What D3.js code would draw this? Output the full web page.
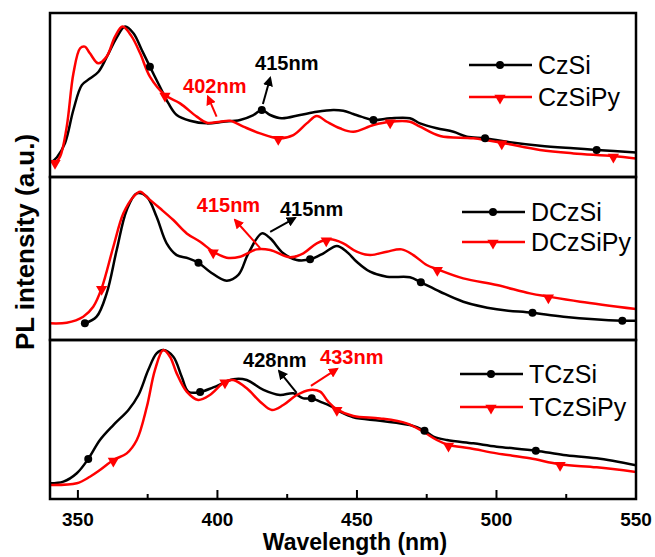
<!DOCTYPE html>
<meta charset="utf-8">
<style>
  body { margin: 0; background: #fff; }
  text { font-family: "Liberation Sans", Arial, sans-serif; }
  .frame { fill: none; stroke: #000; stroke-width: 2.5; }
  .curve { fill: none; stroke-width: 2.5; }
</style>
<svg width="655" height="557"></svg>
<script src="https://cdnjs.cloudflare.com/ajax/libs/d3/7.8.5/d3.min.js"></script>
<script>
  // spectra: [wavelength nm, normalised PL intensity]
  var czsi = [[340.5,.09],[342.5,.12],[345.4,.207],[348.4,.41],[351.4,.56],[354.3,.60],[357.3,.64],[360.3,.73],[363.9,.85],[366.9,.917],[369.9,.876],[372.9,.774],[375.8,.673],[379.4,.55],[382.4,.45],[385.4,.378],[390.2,.343],[396.2,.327],[402.1,.337],[408.1,.348],[412.9,.378],[415.9,.409],[418.9,.378],[423,.358],[429.6,.378],[435.6,.398],[441.5,.409],[445.1,.404],[448.7,.384],[451.5,.368],[455.9,.348],[461.9,.358],[469,.358],[472.6,.327],[478.6,.297],[484.6,.276],[489.4,.246],[495.9,.236],[503.7,.215],[515.6,.191],[527.6,.175],[535.9,.165],[550,.15]];
  var czsipy = [[340,.1],[341.8,.09],[343.6,.124],[346,.307],[348.4,.632],[350.8,.785],[352.5,.795],[354.3,.754],[357.3,.693],[360.3,.734],[363.3,.856],[366,.917],[369.3,.856],[372.3,.754],[375.8,.612],[381.2,.5],[386.6,.449],[392.6,.368],[396.2,.331],[400.9,.337],[404.5,.343],[409.3,.307],[415.3,.266],[421.8,.236],[427.2,.256],[432,.327],[435.6,.372],[439.2,.337],[443.9,.297],[448.7,.276],[455.9,.317],[461.9,.337],[469,.337],[472.6,.307],[479.8,.25],[491.7,.236],[501.9,.209],[515.6,.165],[527.6,.144],[541.9,.128],[550,.112]];
  var dczsi = [[352.5,.102],[356.7,.143],[360.3,.286],[363.9,.552],[367.5,.798],[371.1,.9],[374.7,.879],[378.2,.756],[381.8,.593],[385.4,.521],[389.6,.501],[393.2,.474],[397.3,.419],[403.3,.364],[407.5,.399],[411.1,.532],[415.9,.654],[418.9,.624],[423.6,.532],[428.4,.491],[433.2,.495],[438,.532],[442.8,.577],[446.3,.542],[449.9,.48],[454.7,.419],[460.7,.388],[469,.385],[472.9,.354],[479.8,.296],[488.1,.235],[500.1,.188],[512.9,.167],[524,.143],[545.1,.118],[550,.118]];
  var dczsipy = [[340,.102],[346,.106],[351.9,.143],[355.5,.204],[358.5,.317],[362.7,.572],[366.3,.777],[369.9,.879],[372.3,.91],[375.2,.869],[379.4,.808],[384.2,.736],[389,.654],[393.8,.603],[398.5,.542],[403.3,.505],[408.1,.511],[414.1,.556],[418.9,.552],[426,.507],[430.8,.532],[435.6,.593],[440.4,.618],[445.1,.593],[449.9,.542],[454.7,.521],[460.7,.542],[466,.556],[470.2,.521],[475,.46],[478.8,.434],[488.1,.378],[500.1,.337],[512,.286],[518.6,.266],[530,.235],[550,.19]];
  var tczsi = [[340,.099],[344.8,.109],[349.6,.162],[353.7,.252],[357.9,.371],[362.7,.465],[368.1,.56],[371.7,.654],[375.2,.811],[378.2,.916],[380.6,.937],[384.2,.895],[387.2,.769],[389.6,.675],[393.8,.673],[398.5,.702],[405.7,.753],[410.5,.748],[416.5,.686],[422.4,.654],[427.2,.665],[430.8,.633],[433.8,.633],[436.8,.612],[440.4,.585],[443.9,.549],[448.7,.514],[458.3,.492],[469,.465],[474.2,.43],[477.4,.392],[482.2,.371],[491.7,.35],[500.1,.329],[514.1,.304],[524,.277],[535.9,.256],[550,.212]];
  var tczsipy = [[340,.088],[349.6,.099],[354.3,.14],[357.9,.182],[362.7,.245],[367.5,.287],[371.1,.371],[374.7,.58],[377.6,.811],[380.6,.937],[383,.895],[385.4,.79],[389,.675],[393.1,.623],[397.3,.654],[402.7,.738],[405.7,.748],[410.5,.696],[415.3,.612],[419.5,.56],[423.6,.591],[428.4,.654],[433.2,.686],[436.8,.675],[439.7,.612],[442.8,.564],[448.7,.522],[458.3,.507],[467.8,.476],[473.8,.423],[478.6,.371],[482.8,.34],[490.5,.319],[500.1,.287],[512,.256],[522.8,.218],[535.9,.199],[550,.17]];

  // wavelengths where the symbols sit
  var czsiMarks = [375.8, 415.9, 455.9, 495.9, 535.9];
  var czsipyMarks = [341.8, 381.2, 421.8, 461.9, 501.9, 541.9];
  var dczsiMarks = [352.5, 393.2, 433.2, 472.9, 512.9, 545.1];
  var dczsipyMarks = [358.5, 398.5, 439, 478.8, 518.6];
  var tczsiMarks = [353.7, 393.8, 433.8, 474.2, 514.1];
  var tczsipyMarks = [362.7, 402.7, 442.8, 482.8, 522.8];

  var names = [["CzSi", "CzSiPy"], ["DCzSi", "DCzSiPy"], ["TCzSi", "TCzSiPy"]];
  var majorTicks = [350, 400, 450, 500, 550];
  var minorTicks = [375, 425, 475, 525];

  // peak labels: text, colour, text anchor point, arrow from -> to (nm, intensity)
  var peaks = [
    [0, "415nm", "#000", [413.5, .655], [416.3, .445], [418.9, .604]],
    [0, "402nm", "#f00", [387.7, .515], [399.7, .368], [396.6, .49]],
    [1, "415nm", "#f00", [392.6, .784], [415.3, .564], [406.3, .736]],
    [1, "415nm", "#000", [422.4, .758], [418.9, .664], [427.8, .748]],
    [2, "428nm", "#000", [409.2, .833], [428.4, .667], [422.1, .805]],
    [2, "433nm", "#f00", [436.8, .846], [433.5, .711], [442.9, .818]]
  ];

  var svg = d3.select("svg");
  var left = 50, right = 636;
  var panels = [
    {top: 13, bottom: 177, black: czsi, red: czsipy, bm: czsiMarks, rm: czsipyMarks, leg: {x: 469, y: 65, dy: 32}},
    {top: 177, bottom: 340, black: dczsi, red: dczsipy, bm: dczsiMarks, rm: dczsipyMarks, leg: {x: 462, y: 212, dy: 30}},
    {top: 340, bottom: 499, black: tczsi, red: tczsipy, bm: tczsiMarks, rm: tczsipyMarks, leg: {x: 460, y: 374, dy: 33}}
  ];

  var x = d3.scaleLinear().domain([340, 550]).range([left, right]);

  var defs = svg.append("defs");
  ["#000", "#f00"].forEach(function(c, i) {
    defs.append("marker")
      .attr("id", "head" + i)
      .attr("viewBox", "0 0 10 10")
      .attr("refX", 8).attr("refY", 5)
      .attr("markerWidth", 5).attr("markerHeight", 5)
      .attr("markerUnits", "strokeWidth")
      .attr("orient", "auto")
      .append("path")
      .attr("d", "M0,0L10,5L0,10z")
      .attr("fill", c);
  });

  var triangle = d3.symbol().type(d3.symbolTriangle).size(55);

  // find the point on a drawn path where it crosses a given x
  function pointAt(node, px) {
    var lo = 0, hi = node.getTotalLength();
    for (var k = 0; k < 30; k++) {
      var mid = (lo + hi) / 2;
      if (node.getPointAtLength(mid).x < px) lo = mid; else hi = mid;
    }
    return node.getPointAtLength((lo + hi) / 2);
  }

  panels.forEach(function(p, i) {
    var y = d3.scaleLinear().domain([0, 1]).range([p.bottom, p.top]);
    var line = d3.line()
      .x(function(d) { return x(d[0]); })
      .y(function(d) { return y(d[1]); })
      .curve(d3.curveCatmullRom.alpha(0.5));

    defs.append("clipPath").attr("id", "clip" + i)
      .append("rect")
      .attr("x", left).attr("y", p.top)
      .attr("width", right - left).attr("height", p.bottom - p.top);

    var g = svg.append("g").attr("clip-path", "url(#clip" + i + ")");

    var blackPath = g.append("path").datum(p.black)
      .attr("class", "curve").attr("stroke", "#000").attr("d", line);
    var redPath = g.append("path").datum(p.red)
      .attr("class", "curve").attr("stroke", "#f00").attr("d", line);

    g.selectAll(".dot").data(p.bm).enter().append("circle")
      .attr("class", "dot")
      .attr("r", 4)
      .attr("fill", "#000")
      .each(function(d) {
        var pt = pointAt(blackPath.node(), x(d));
        d3.select(this).attr("cx", pt.x).attr("cy", pt.y);
      });

    g.selectAll(".tri").data(p.rm).enter().append("path")
      .attr("class", "tri")
      .attr("d", triangle)
      .attr("fill", "#f00")
      .each(function(d) {
        var pt = pointAt(redPath.node(), x(d));
        d3.select(this).attr("transform", "translate(" + pt.x + "," + (pt.y + 1) + ") rotate(180)");
      });

    // peak annotations
    peaks.filter(function(d) { return d[0] === i; }).forEach(function(d) {
      var head = d[2] === "#000" ? 0 : 1;
      svg.append("line")
        .attr("x1", x(d[4][0])).attr("y1", y(d[4][1]))
        .attr("x2", x(d[5][0])).attr("y2", y(d[5][1]))
        .attr("stroke", d[2]).attr("stroke-width", 2)
        .attr("marker-end", "url(#head" + head + ")");
      svg.append("text")
        .attr("x", x(d[3][0])).attr("y", y(d[3][1]))
        .attr("fill", d[2])
        .style("font-size", "20px").style("font-weight", "bold")
        .text(d[1]);
    });

    // legend
    var legend = svg.selectAll(".leg" + i)
      .data(names[i])
      .enter().append("g")
      .attr("transform", function(d, j) {
        return "translate(" + p.leg.x + "," + (p.leg.y + j * p.leg.dy) + ")";
      });
    legend.append("line")
      .attr("x1", 0).attr("x2", 63)
      .attr("stroke", function(d, j) { return j ? "#f00" : "#000"; })
      .attr("stroke-width", 2.5);
    legend.each(function(d, j) {
      var s = d3.select(this);
      if (j) s.append("path").attr("d", triangle).attr("fill", "#f00").attr("transform", "translate(31,1) rotate(180)");
      else s.append("circle").attr("cx", 31).attr("r", 4).attr("fill", "#000");
    });
    legend.append("text")
      .attr("x", 69).attr("y", 9)
      .style("font-size", "25px")
      .text(function(d) { return d; });

    svg.append("rect")
      .attr("class", "frame")
      .attr("x", left).attr("y", p.top)
      .attr("width", right - left).attr("height", p.bottom - p.top);
  });

  // bottom axis ticks point inward
  var bottom = panels[2].bottom;
  svg.selectAll(".major").data(majorTicks).enter().append("line")
    .attr("x1", x).attr("x2", x)
    .attr("y1", bottom).attr("y2", bottom - 9)
    .attr("stroke", "#000").attr("stroke-width", 2);
  svg.selectAll(".minor").data(minorTicks).enter().append("line")
    .attr("x1", x).attr("x2", x)
    .attr("y1", bottom).attr("y2", bottom - 5)
    .attr("stroke", "#000").attr("stroke-width", 2);
  svg.selectAll(".tl").data(majorTicks).enter().append("text")
    .attr("x", x).attr("y", bottom + 27)
    .attr("text-anchor", "middle")
    .style("font-size", "19px").style("font-weight", "bold")
    .text(function(d) { return d; });

  svg.append("text")
    .attr("x", 355).attr("y", 550)
    .attr("text-anchor", "middle")
    .style("font-size", "23px").style("font-weight", "bold")
    .text("Wavelength (nm)");

  svg.append("text")
    .attr("transform", "translate(34,242) rotate(-90)")
    .attr("text-anchor", "middle")
    .style("font-size", "26px").style("font-weight", "bold")
    .text("PL intensity (a.u.)");
</script>
